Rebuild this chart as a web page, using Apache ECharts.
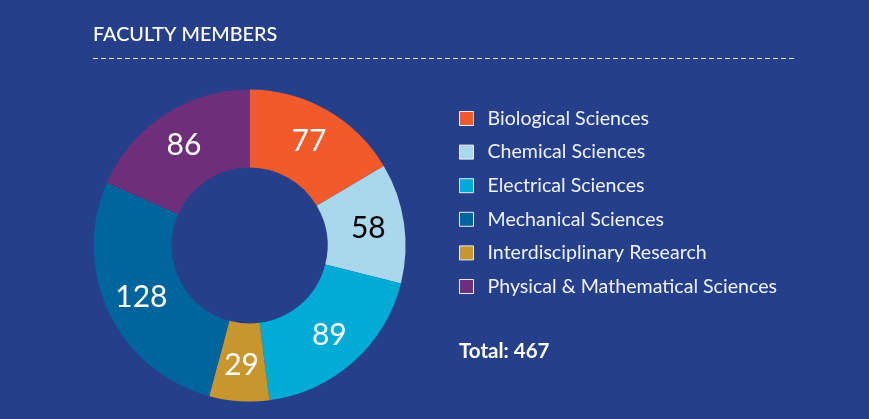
<!DOCTYPE html>
<html><head><meta charset="utf-8">
<script src="https://cdn.jsdelivr.net/npm/echarts@6/dist/echarts.min.js"></script>
<style>html,body{margin:0;padding:0;background:#263f8a;}#c{width:869px;height:419px;}</style>
</head><body><div id="c"></div>
<script>
const categories = ['Biological Sciences','Chemical Sciences','Electrical Sciences','Mechanical Sciences','Interdisciplinary Research','Physical & Mathematical Sciences'];
const values = [77, 58, 89, 128, 29, 86];
const colors = ['#f15a2b','#a9d7ec','#00acd6','#00659c','#c8962e','#6d2e7a'];
const labelColors = ['#ffffff','#000000','#ffffff','#ffffff','#ffffff','#ffffff'];
const titleText = 'FACULTY MEMBERS';
const totalText = 'Total: 467';

// pie order in picture (clockwise from top): Bio, Chem, Elec, Interdisc, Mech, Phys
const pieOrder = [0,1,2,4,3,5];

const chart = echarts.init(document.getElementById('c'));
chart.setOption({
  backgroundColor: '#263f8a',
  animation: false,
  color: colors,
  legend: {
    orient: 'vertical',
    left: 459, top: 108.5,
    padding: 0,
    data: categories,
    itemWidth: 14, itemHeight: 14, itemGap: 13.6,
    icon: 'rect',
    itemStyle: {borderColor: '#e8ecf6', borderWidth: 1},
    textStyle: {color: '#eef2fa', fontSize: 19.6, lineHeight: 20, fontFamily: 'Lato', padding: [0,0,0,9]},
    selectedMode: false
  },
  graphic: [
    {type:'text', left: 93, top: 25, style:{text: titleText, fill:'#ffffff', fontSize: 19.8, fontFamily:'Lato', fontWeight: 500}},
    {type:'line', shape:{x1:93, y1:58.5, x2:794, y2:58.5}, style:{stroke:'#e6eaf4', lineWidth:1, lineDash:[5,3]}},
    {type:'text', left: 459, top: 341, style:{text: totalText, fill:'#ffffff', fontSize: 20.5, fontFamily:'Lato', fontWeight: 'bold'}}
  ],
  series: [{
    type: 'pie',
    center: [249.6, 245.5],
    radius: [78, 156],
    startAngle: 90,
    clockwise: true,
    silent: true,
    label: {
      position: 'inside',
      fontSize: 30,
      fontFamily: 'Lato',
      formatter: '{c}'
    },
    labelLine: {show:false},
    data: pieOrder.map(i => ({
      name: categories[i], value: values[i],
      itemStyle: {color: colors[i]},
      label: {color: labelColors[i]}
    }))
  }]
});
</script></body></html>
